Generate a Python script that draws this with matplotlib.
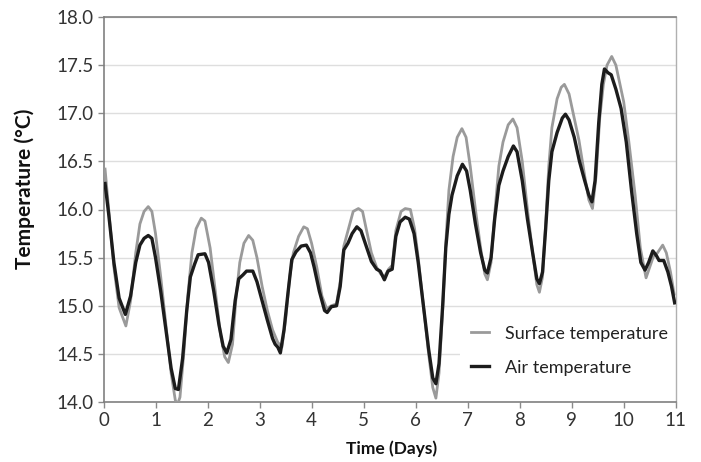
import matplotlib
matplotlib.use("Agg")
import matplotlib.pyplot as plt

# ---- data ----
air_days = [0.03, 0.10, 0.20, 0.30, 0.42, 0.52, 0.62, 0.70, 0.78, 0.86, 0.93, 1.00, 1.10, 1.20, 1.30,
            1.38, 1.44, 1.52, 1.60, 1.67, 1.75, 1.82, 1.95, 2.02, 2.12, 2.22, 2.30, 2.37, 2.45, 2.53,
            2.60, 2.68, 2.75, 2.87, 2.95, 3.05, 3.15, 3.25, 3.30, 3.35, 3.40, 3.47, 3.55, 3.62, 3.70,
            3.80, 3.90, 3.98, 4.05, 4.15, 4.25, 4.30, 4.38, 4.48, 4.55, 4.62, 4.70, 4.78, 4.87, 4.95,
            5.05, 5.15, 5.25, 5.32, 5.40, 5.47, 5.55, 5.62, 5.70, 5.80, 5.88, 5.97, 6.05, 6.15, 6.25,
            6.33, 6.39, 6.45, 6.52, 6.58, 6.64, 6.70, 6.80, 6.90, 6.98, 7.05, 7.15, 7.25, 7.33, 7.38,
            7.45, 7.52, 7.60, 7.68, 7.78, 7.88, 7.95, 8.05, 8.15, 8.25, 8.33, 8.38, 8.44, 8.50, 8.56,
            8.62, 8.72, 8.82, 8.88, 8.95, 9.05, 9.15, 9.25, 9.33, 9.39, 9.45, 9.52, 9.58, 9.63, 9.70,
            9.76, 9.85, 9.95, 10.05, 10.15, 10.25, 10.33, 10.41, 10.48, 10.56, 10.63, 10.68, 10.77,
            10.85, 10.92, 10.98]
air_temp = [16.27, 15.95, 15.45, 15.08, 14.91, 15.10, 15.45, 15.63, 15.70, 15.73, 15.70, 15.50, 15.15,
            14.75, 14.35, 14.14, 14.13, 14.45, 14.95, 15.30, 15.43, 15.53, 15.54, 15.45, 15.15, 14.80,
            14.58, 14.51, 14.65, 15.05, 15.28, 15.32, 15.36, 15.36, 15.25, 15.05, 14.85, 14.66, 14.60,
            14.57, 14.51, 14.75, 15.15, 15.48, 15.56, 15.62, 15.63, 15.55, 15.40, 15.15, 14.95, 14.93,
            14.99, 15.00, 15.20, 15.58, 15.65, 15.75, 15.82, 15.78, 15.62, 15.46, 15.38, 15.36, 15.27,
            15.36, 15.38, 15.72, 15.87, 15.92, 15.90, 15.75, 15.45, 15.00, 14.55, 14.25, 14.19, 14.40,
            15.00, 15.60, 15.95, 16.15, 16.35, 16.47, 16.40, 16.20, 15.85, 15.55, 15.37, 15.34, 15.50,
            15.90, 16.25, 16.40, 16.55, 16.66, 16.60, 16.30, 15.90, 15.55, 15.28, 15.23, 15.35, 15.80,
            16.30, 16.60, 16.80, 16.95, 16.99, 16.93, 16.75, 16.50, 16.30, 16.15, 16.08, 16.30, 16.90,
            17.30, 17.46, 17.42, 17.40, 17.25, 17.05, 16.70, 16.20, 15.75, 15.45, 15.37, 15.45, 15.57,
            15.52, 15.47, 15.47, 15.35, 15.20, 15.03]

surf_days = [0.03, 0.10, 0.20, 0.30, 0.43, 0.52, 0.62, 0.70, 0.78, 0.86, 0.93, 1.00, 1.10, 1.20, 1.30,
             1.38, 1.42, 1.47, 1.55, 1.62, 1.70, 1.78, 1.88, 1.95, 2.05, 2.15, 2.25, 2.33, 2.40, 2.48,
             2.55, 2.62, 2.70, 2.79, 2.87, 2.95, 3.05, 3.15, 3.25, 3.35, 3.43, 3.50, 3.58, 3.65, 3.75,
             3.85, 3.92, 4.00, 4.10, 4.20, 4.29, 4.38, 4.48, 4.55, 4.62, 4.70, 4.80, 4.90, 4.98, 5.05,
             5.15, 5.25, 5.33, 5.40, 5.48, 5.55, 5.62, 5.72, 5.80, 5.90, 5.98, 6.05, 6.15, 6.25, 6.33,
             6.39, 6.45, 6.52, 6.58, 6.64, 6.72, 6.80, 6.89, 6.97, 7.05, 7.15, 7.25, 7.33, 7.38, 7.45,
             7.52, 7.60, 7.68, 7.78, 7.87, 7.95, 8.05, 8.15, 8.25, 8.33, 8.38, 8.44, 8.50, 8.56, 8.62,
             8.72, 8.80, 8.86, 8.95, 9.05, 9.14, 9.25, 9.33, 9.40, 9.47, 9.54, 9.61, 9.68, 9.77, 9.85,
             9.93, 10.00, 10.10, 10.22, 10.32, 10.43, 10.50, 10.57, 10.65, 10.75, 10.82, 10.90, 10.97]
surf_temp = [16.42, 16.00, 15.40, 14.98, 14.79, 15.05, 15.55, 15.85, 15.98, 16.03, 15.98, 15.75, 15.30,
             14.80, 14.30, 14.02, 13.97, 14.05, 14.55, 15.10, 15.55, 15.80, 15.91, 15.88, 15.60, 15.15,
             14.70, 14.47, 14.41, 14.60, 15.10, 15.45, 15.65, 15.73, 15.68, 15.50, 15.20, 14.95, 14.75,
             14.62, 14.57, 14.85, 15.30, 15.55, 15.72, 15.82, 15.80, 15.65, 15.40, 15.10, 14.97, 15.00,
             15.02, 15.25, 15.62, 15.78, 15.98, 16.01, 15.98, 15.80, 15.55, 15.40, 15.33, 15.30, 15.38,
             15.42, 15.78, 15.98, 16.01, 16.00, 15.80, 15.50, 15.00, 14.50, 14.15, 14.04, 14.30, 14.95,
             15.65, 16.20, 16.55, 16.75, 16.84, 16.75, 16.45, 16.00, 15.60, 15.33, 15.27, 15.45, 15.95,
             16.45, 16.70, 16.88, 16.94, 16.85, 16.50, 16.00, 15.55, 15.22, 15.14, 15.30, 15.85, 16.45,
             16.85, 17.15, 17.27, 17.30, 17.20, 16.95, 16.72, 16.35, 16.10, 16.01, 16.35, 16.95, 17.30,
             17.50, 17.59, 17.50, 17.30, 17.12, 16.70, 16.15, 15.60, 15.29, 15.40, 15.51, 15.55, 15.63,
             15.55, 15.35, 15.12]

x_ticks = list(range(0, 12))
y_ticks = [14.0, 14.5, 15.0, 15.5, 16.0, 16.5, 17.0, 17.5, 18.0]
series_labels = ["Surface temperature", "Air temperature"]

plt.rcParams['font.family'] = ['Lato', 'DejaVu Sans']

fig = plt.figure(figsize=(7.01, 4.62), dpi=100)
ax = fig.add_axes([103.5 / 701, 60 / 462, 572.2 / 701, 385 / 462])

ax.plot(surf_days, surf_temp, color='#9a9a9a', lw=2.0, label=series_labels[0], zorder=3,
        solid_joinstyle='round')
ax.plot(air_days, air_temp, color='#1c1c1c', lw=2.4, label=series_labels[1], zorder=4,
        solid_joinstyle='round')

ax.set_xlim(0, 11)
ax.set_ylim(14, 18)
ax.set_xticks(x_ticks)
ax.set_yticks(y_ticks)
ax.set_yticklabels([f"{v:.1f}" for v in y_ticks])
ax.grid(axis='y', color='#dedede', lw=1.0, zorder=0)
ax.set_axisbelow(True)

ax.tick_params(axis='both', direction='out', length=4, width=1, color='#8a8a8a',
               labelsize=13.5, labelcolor='#333333', pad=3)

for side in ['left', 'bottom', 'top']:
    ax.spines[side].set_color('#808080')
    ax.spines[side].set_linewidth(1.2)
ax.spines['right'].set_color('#b0b0b0')
ax.spines['right'].set_linewidth(1.0)

fig.text(25 / 701, 1 - 189 / 462, 'Temperature (°C)', rotation=90, ha='center', va='center',
         fontsize=15, fontweight='bold', color='#111111')
fig.text(392 / 701, 1 - 449 / 462, 'Time (Days)', ha='center', va='center',
         fontsize=12.5, fontweight='bold', color='#111111')

leg = ax.legend(loc='lower right', bbox_to_anchor=(1.021, 0.017), fontsize=13, frameon=True,
                handlelength=1.0, handletextpad=0.9, labelspacing=1.0, borderpad=0.6)
leg.get_frame().set_facecolor('white')
leg.get_frame().set_edgecolor('none')
leg.get_frame().set_alpha(1.0)
leg.set_zorder(2.2)
for t in leg.get_texts():
    t.set_color('#222222')

fig.savefig('out.png', dpi=100)
